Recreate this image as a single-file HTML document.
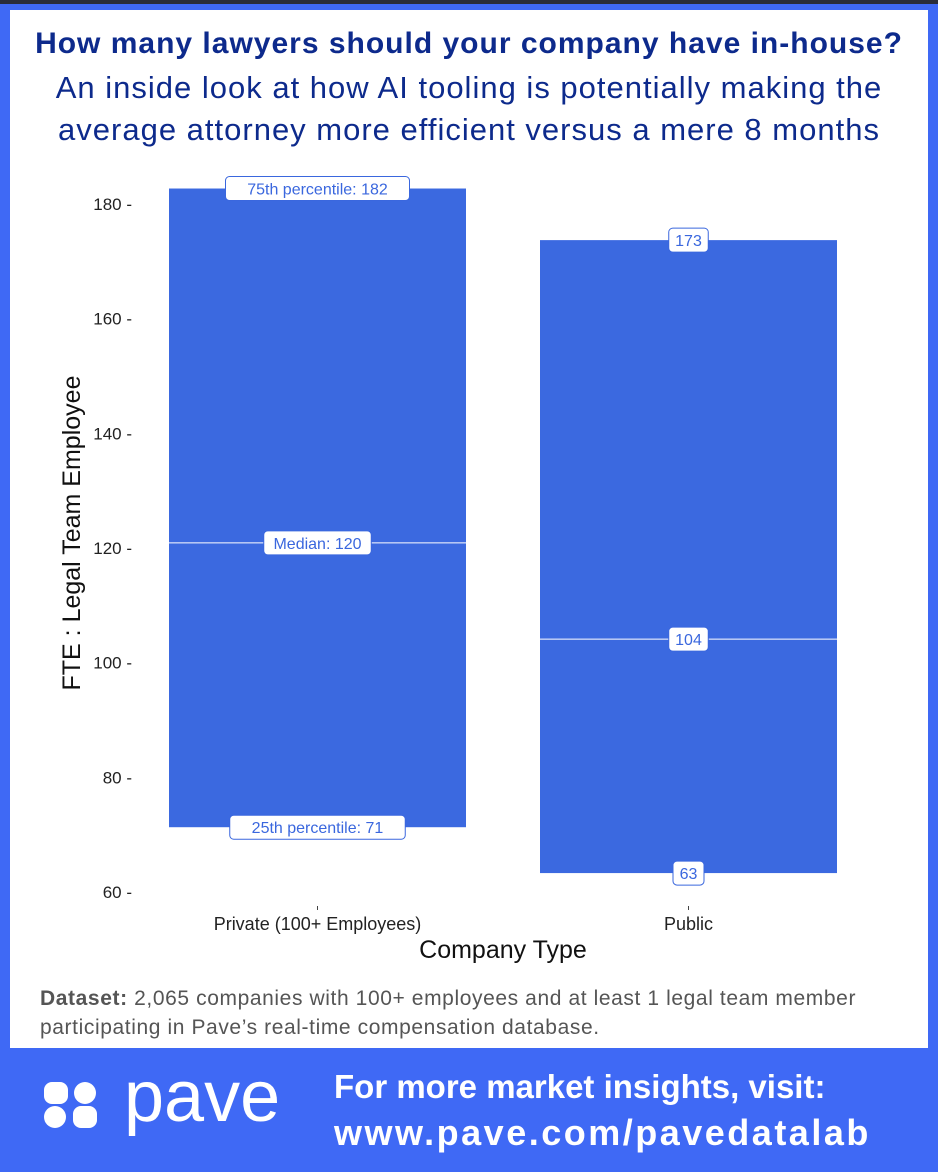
<!DOCTYPE html>
<html><head><meta charset="utf-8"><style>
body{margin:0;width:938px;height:1172px;background:#3f69f5;font-family:"Liberation Sans",sans-serif;position:relative;overflow:hidden}
#top{position:absolute;left:0;top:0;width:938px;height:4px;background:#2a2d3a}
#panel{position:absolute;left:10px;top:10px;width:918px;height:1038px;background:#fff}
.t{position:absolute;left:0;width:938px;text-align:center;color:#0d2a8c}
#foot1,#foot2{position:absolute;left:334px;color:#fff;font-weight:bold;font-size:33px;white-space:nowrap}
</style></head><body>
<div id="top"></div>
<div id="panel"></div>
<div class="t" style="top:27px;font-size:30px;letter-spacing:1px;font-weight:bold">How many lawyers should your company have in-house?</div>
<div class="t" style="top:67px;font-size:31px;letter-spacing:1px;line-height:42px">An inside look at how AI tooling is potentially making the<br>average attorney more efficient versus a mere 8 months</div>
<svg id="chart" width="938" height="1172" style="position:absolute;left:0;top:0"></svg>
<div style="position:absolute;left:40px;top:984px;width:880px;font-size:21px;letter-spacing:0.6px;line-height:29px;color:#555;white-space:nowrap"><b>Dataset:</b> 2,065 companies with 100+ employees and at least 1 legal team member<br>participating in Pave’s real-time compensation database.</div>
<svg style="position:absolute;left:40px;top:1078px" width="62" height="56">
<rect x="4" y="4" width="24" height="22" rx="8" fill="#fff"/><circle cx="45" cy="15" r="11" fill="#fff"/>
<circle cx="15" cy="39" r="11" fill="#fff"/><rect x="33" y="28" width="24" height="22" rx="8" fill="#fff"/></svg>
<div style="position:absolute;left:124px;top:1056px;font-size:72px;color:#fff">pave</div>
<div id="foot1" style="top:1068px">For more market insights, visit:</div>
<div id="foot2" style="top:1112px;font-size:36px;letter-spacing:2.5px">www.pave.com/pavedatalab</div>
<script>
const categories=["Private (100+ Employees)","Public"];
const p25=[71.3,63.3];
const medians=[120.9,104.1];
const p75=[182.7,173.7];
const labels25=["25th percentile: 71","63"];
const labelsMed=["Median: 120","104"];
const labels75=["75th percentile: 182","173"];
const yTicks=[60,80,100,120,140,160,180];
const NS="http://www.w3.org/2000/svg";
const svg=document.getElementById('chart');
const y=v=>892-(v-60)*(688/120);
const xLeft=i=>169+i*371, bw=297;
function mk(t,a){const e=document.createElementNS(NS,t);for(const k in a)e.setAttribute(k,a[k]);svg.appendChild(e);return e;}
yTicks.forEach(v=>{
  const t=mk('text',{x:132,y:y(v)+6,'text-anchor':'end','font-size':17,fill:'#222','font-family':'Liberation Sans'});
  
  
  t.textContent=v+' -';
});
function box(cx,cy,txt,name){
  const w=txt.length*8.5+14;
  const r=mk('rect',{x:cx-w/2,y:cy-12,width:w,height:24,rx:4,fill:'#fff',stroke:'#3a67de','stroke-width':1});
  
  
  const t=mk('text',{x:cx,y:cy+6,'text-anchor':'middle','font-size':16,fill:'#3a67de','font-family':'Liberation Sans'});
  
  
  t.textContent=txt;
}
categories.forEach((c,i)=>{
  const x=xLeft(i);
  const b=mk('rect',{x:x,y:y(p75[i]),width:bw,height:y(p25[i])-y(p75[i]),fill:'#3b69e0'});
  
  
  const l=mk('line',{x1:x,x2:x+bw,y1:y(medians[i]),y2:y(medians[i]),stroke:'#fff','stroke-width':1});
  
  
  box(x+bw/2,y(p75[i]),labels75[i],'p75-label');
  box(x+bw/2,y(medians[i]),labelsMed[i],'median-label');
  box(x+bw/2,y(p25[i]),labels25[i],'p25-label');
  const tk=mk('line',{x1:x+bw/2,x2:x+bw/2,y1:906,y2:910,stroke:'#444'});
  
  
  const t=mk('text',{x:x+bw/2,y:930,'text-anchor':'middle','font-size':18,fill:'#222','font-family':'Liberation Sans'});
  
  
  t.textContent=c;
});
const xt=mk('text',{x:503,y:958,'text-anchor':'middle','font-size':25,fill:'#111','font-family':'Liberation Sans'});


xt.textContent='Company Type';
const yt=mk('text',{x:0,y:0,'text-anchor':'middle','font-size':25,fill:'#111','font-family':'Liberation Sans',transform:'translate(80,533) rotate(-90)'});


yt.textContent='FTE : Legal Team Employee';
</script>
</body></html>
